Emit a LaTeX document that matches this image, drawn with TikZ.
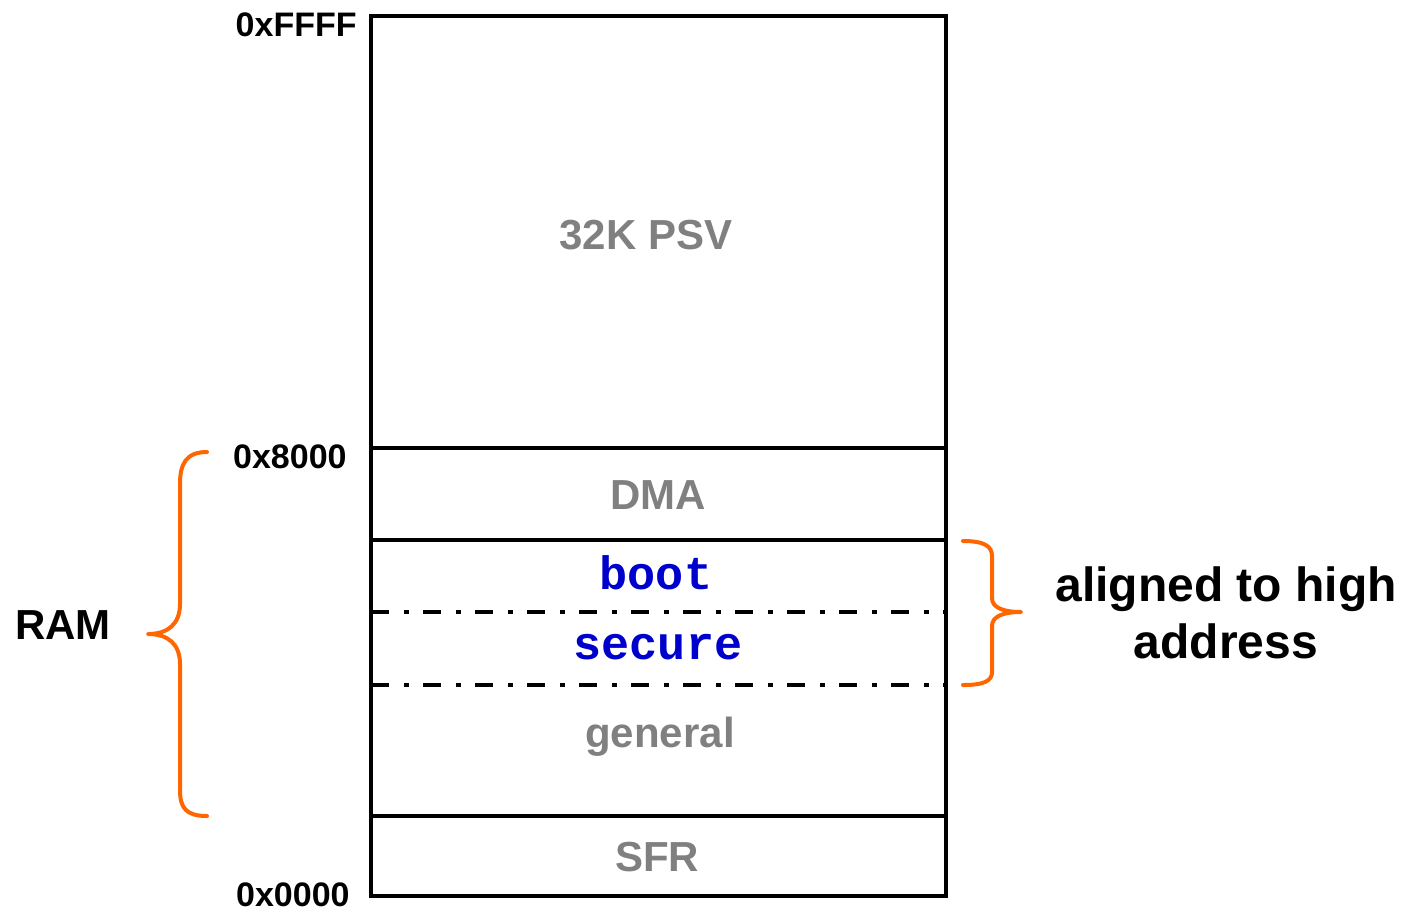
\documentclass[tikz,border=0pt]{standalone}
\usepackage{fontspec}
\setmainfont{Liberation Sans}
\setmonofont{Liberation Mono}
\definecolor{regiongray}{RGB}{128,128,128}
\definecolor{secblue}{RGB}{0,0,204}
\definecolor{braceorange}{RGB}{255,102,0}
\tikzset{
  addr/.style={anchor=east,inner sep=0pt,font=\fontsize{17}{20}\selectfont\bfseries},
  region/.style={inner sep=0pt,text=regiongray,font=\fontsize{21}{25}\selectfont\bfseries},
  secregion/.style={inner sep=0pt,text=secblue,font=\fontsize{23.4}{28}\selectfont\ttfamily\bfseries},
  memline/.style={line width=2pt},
  dashdotline/.style={line width=2pt,dash pattern=on 9pt off 7.5pt on 2.5pt off 7pt},
  bracepath/.style={line width=2pt,color=braceorange,line cap=round,line join=round},
}
\begin{document}
\begin{tikzpicture}[x=0.5pt,y=-0.5pt]
\useasboundingbox (0,0) rectangle (1403,911);
% memory map outline and region borders
\draw[memline] (371,16) rectangle (946,896);
\draw[memline] (371,448) -- (946,448);
\draw[memline] (371,540) -- (946,540);
\draw[dashdotline] (371,612) -- (946,612);
\draw[dashdotline] (371,685) -- (946,685);
\draw[memline] (371,816) -- (946,816);
% addresses
\node[addr] (addr_ffff) at (357,25) {0xFFFF};
\node[addr] (addr_8000) at (347,457) {0x8000};
\node[addr] (addr_0000) at (350,895) {0x0000};
% regions
\node[region] (reg_psv) at (646,235) {32K PSV};
\node[region] (reg_dma) at (658,495) {DMA};
\node[secregion] (reg_boot) at (656,573) {boot};
\node[secregion] (reg_secure) at (658,647) {secure};
\node[region] (reg_general) at (660,737) {general};
\node[region] (reg_sfr) at (657,857) {SFR};
% braces
\draw[bracepath] (207,452) .. controls (186,452) and (180,464) .. (180,484)
  -- (180,604) .. controls (180,624) and (168,634) .. (148,634)
  .. controls (168,634) and (180,644) .. (180,664)
  -- (180,790) .. controls (180,808) and (186,816) .. (207,816);
\draw[bracepath] (963,541) .. controls (984,541) and (992,546) .. (992,556)
  -- (992,598) .. controls (992,608) and (1004,612) .. (1021,612)
  .. controls (1004,612) and (992,616) .. (992,626)
  -- (992,672) .. controls (992,681) and (984,685) .. (963,685);
\node[font=\fontsize{21}{25}\selectfont\bfseries,inner sep=0pt] (lbl_ram) at (63,625) {RAM};
\node[font=\fontsize{24}{28.5}\selectfont\bfseries,inner sep=0pt,align=center] (lbl_aligned) at (1226,613) {aligned to high\\address};
\end{tikzpicture}
\end{document}
